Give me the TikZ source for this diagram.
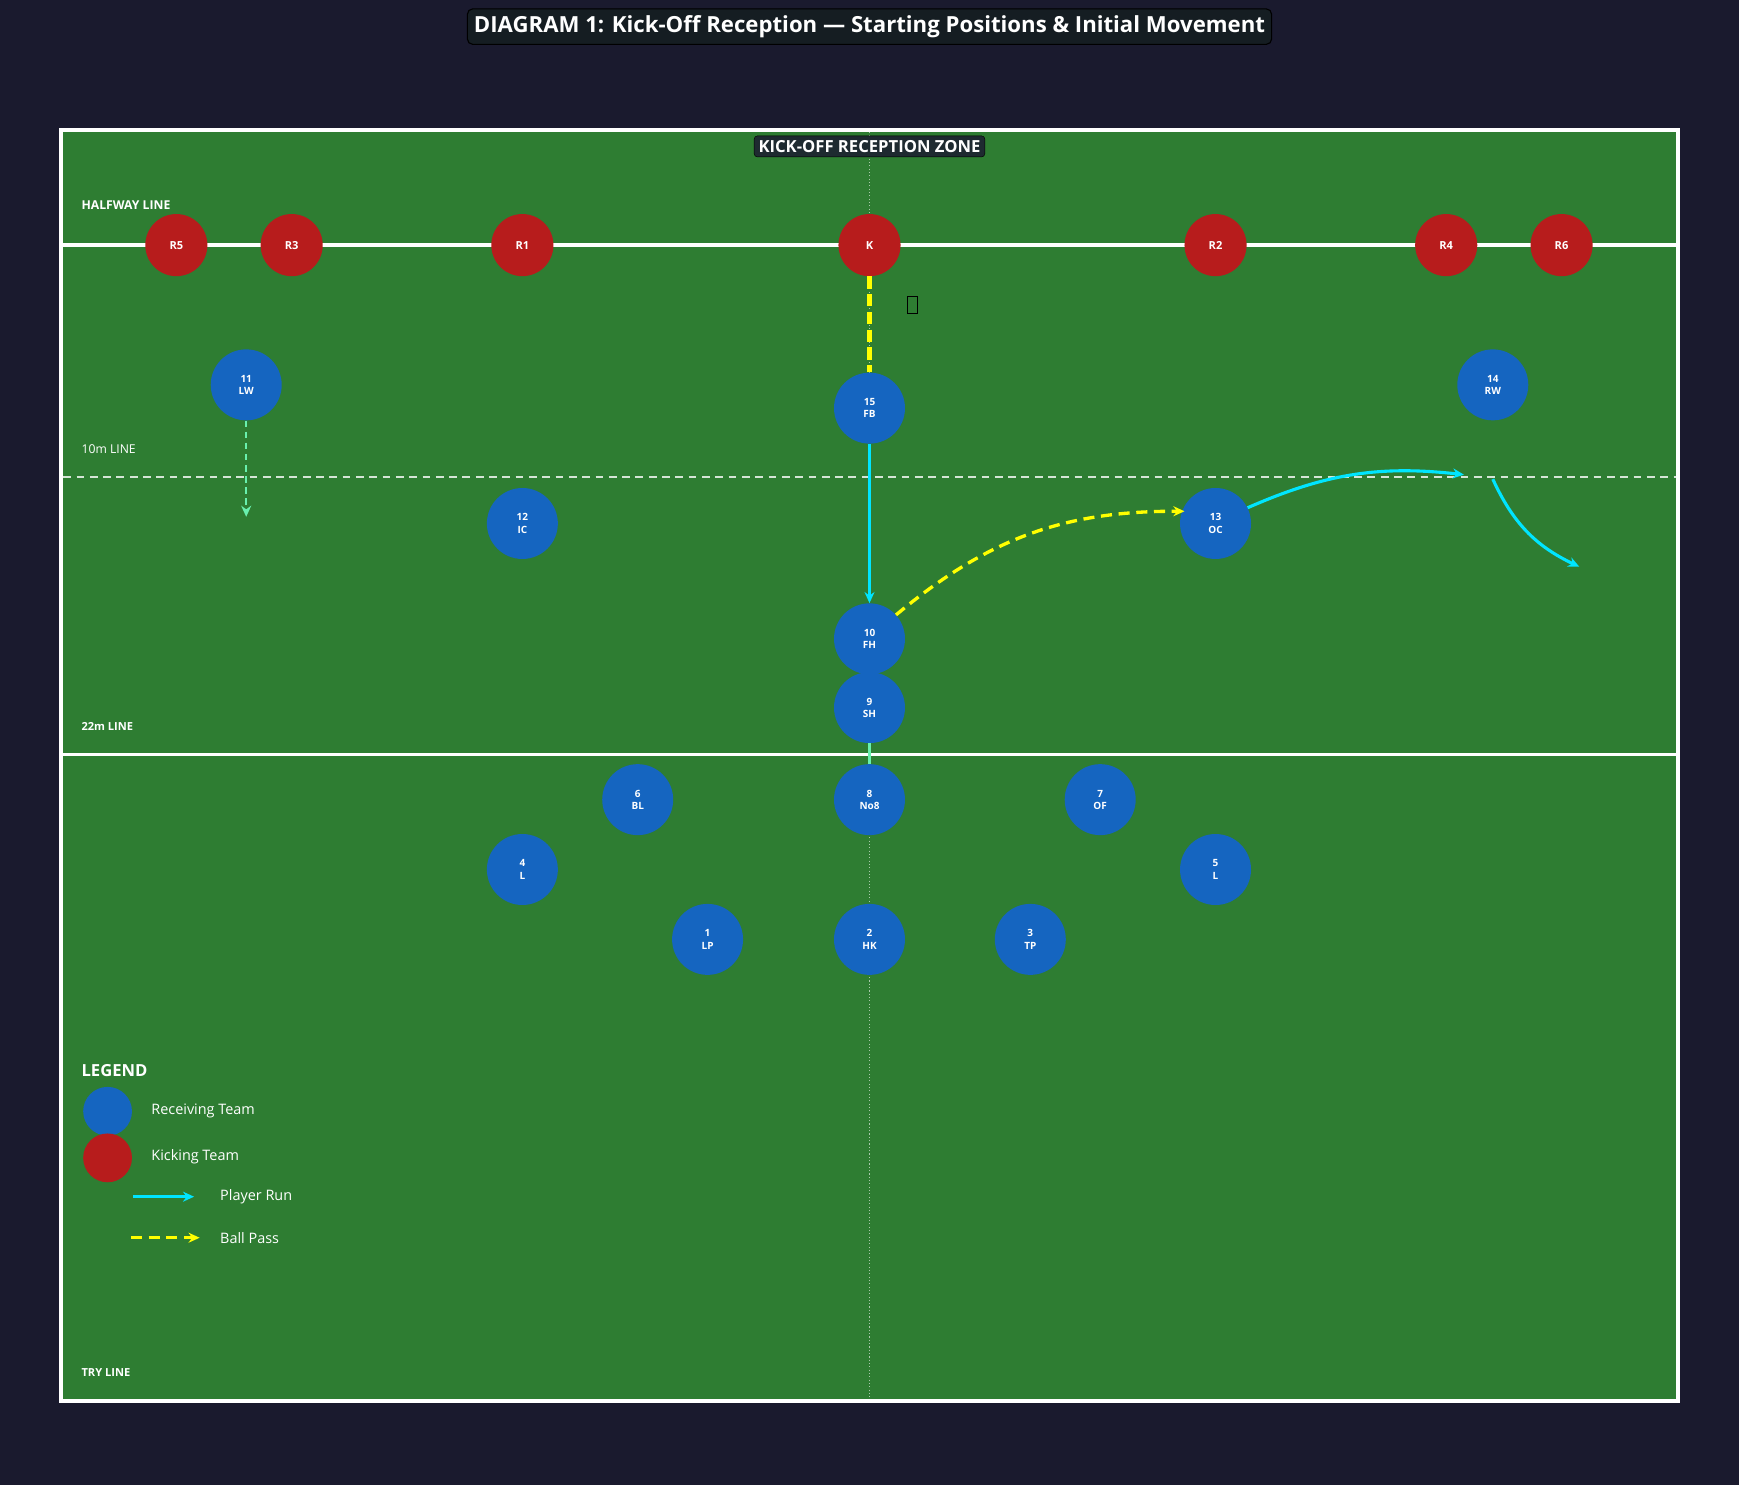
\documentclass[tikz,border=0pt]{standalone}
\usepackage{fontspec}
\setmainfont{Open Sans}
\usetikzlibrary{arrows.meta}
\definecolor{bgdark}{HTML}{1A1A2E}
\definecolor{pitch}{HTML}{2E7D32}
\definecolor{recv}{HTML}{1565C0}
\definecolor{kick}{HTML}{B71C1C}
\definecolor{runcol}{HTML}{00E5FF}
\definecolor{passcol}{HTML}{FFFF00}
\definecolor{support}{HTML}{69F0AE}
\definecolor{boxdark}{HTML}{1E2A30}
\tikzset{
    %Define standard arrow tip
    >={Stealth[length=10pt,width=9pt]},
    %Define style for players
    blue/.style={
           circle, fill=recv, minimum size=64pt, inner sep=0pt,
           text=white, align=center, font=\fontsize{9}{11}\selectfont\bfseries},
    red/.style={
           circle, fill=kick, minimum size=56pt, inner sep=0pt,
           text=white, font=\fontsize{10}{12}\selectfont\bfseries},
    linelabel/.style={
          anchor=west, text=white, font=\fontsize{11}{13}\selectfont\bfseries},
    % Define arrow styles
    run/.style={->, runcol, line width=2.8pt},
    pass/.style={->, passcol, line width=3pt, dash pattern=on 10pt off 6pt},
}
\begin{document}
\begin{tikzpicture}[x=1pt,y=-1pt]
\fill[bgdark] (0,0) rectangle (1568,1339);
\useasboundingbox (0,0) rectangle (1568,1339);
% pitch
\draw[white, line width=4pt, fill=pitch] (55,117) rectangle (1513,1263);
\draw[white, line width=3.5pt] (57,221) -- (1511,221);
\draw[white, line width=3pt] (57,680) -- (1511,680);
\draw[white!80!pitch, line width=2pt, dash pattern=on 7pt off 5pt] (57,430) -- (1511,430);
\draw[white!60!pitch, line width=1pt, dotted] (784,119) -- (784,1261);
\node[linelabel] (lhalf) at (70,185) {HALFWAY LINE};
\node[linelabel, font=\fontsize{11}{13}\selectfont] (lten) at (70,405) {10m LINE};
\node[linelabel, font=\fontsize{10}{12}\selectfont\bfseries] (ltwo) at (70,655) {22m LINE};
\node[linelabel, font=\fontsize{10}{12}\selectfont\bfseries] (ltry) at (70,1238) {TRY LINE};
\node[fill=boxdark, draw=black, rounded corners=3pt, text=white, font=\fontsize{15}{18}\selectfont\bfseries, inner sep=4pt] (zone) at (784,132) {KICK-OFF RECEPTION ZONE};
\node[fill=boxdark!70!black, draw=black, line width=1pt, rounded corners=5pt, text=white, font=\fontsize{20}{24}\selectfont\bfseries, inner sep=6pt] (title) at (784,24) {DIAGRAM 1: Kick-Off Reception — Starting Positions \& Initial Movement};
% kicking team
\node[red] (r5) at (159,221) {R5};
\node[red] (r3) at (263,221) {R3};
\node[red] (r1) at (471,221) {R1};
\node[red] (k) at (784,221) {K};
\node[red] (r2) at (1096,221) {R2};
\node[red] (r4) at (1304,221) {R4};
\node[red] (r6) at (1408,221) {R6};
\node[draw=black, line width=0.8pt, minimum width=9pt, minimum height=16pt, inner sep=0pt] (ball) at (823,275) {};
% receiving team
\node[blue] (lw) at (222,347) {11\\LW};
\node[blue] (fb) at (784,368) {15\\FB};
\node[blue] (rw) at (1346,347) {14\\RW};
\node[blue] (ic) at (471,472) {12\\IC};
\node[blue] (oc) at (1096,472) {13\\OC};
\node[blue] (fh) at (784,576) {10\\FH};
\node[blue] (sh) at (784,638) {9\\SH};
\node[blue] (bl) at (575,721) {6\\BL};
\node[blue] (no8) at (784,721) {8\\No8};
\node[blue] (of) at (992,721) {7\\OF};
\node[blue] (l4) at (471,784) {4\\L};
\node[blue] (l5) at (1096,784) {5\\L};
\node[blue] (lp) at (638,847) {1\\LP};
\node[blue] (hk) at (784,847) {2\\HK};
\node[blue] (tp) at (929,847) {3\\TP};
% movement
\coordinate (lwend) at (222,466);
\coordinate (rwmid) at (1320,428);
\coordinate (rwstart) at (1346,432);
\coordinate (rwend) at (1424,511);
\coordinate (ocin) at (1068,461);
\draw[passcol, line width=4.5pt, dash pattern=on 11pt off 5pt] (k) -- (fb);
\draw[run] (fb) -- (fh);
\draw[support, line width=2pt] (sh) -- (no8);
\draw[->, support, line width=2pt, dash pattern=on 6pt off 4pt] (lw) -- (lwend);
\draw[pass] (fh) to[bend left=20] (ocin);
\draw[run] (oc) to[bend left=15] (rwmid);
\draw[run] (rwstart) to[bend right=20] (rwend);
% legend
\node[anchor=west, text=white, font=\fontsize{15}{18}\selectfont\bfseries] (leg) at (70,965) {LEGEND};
\node[circle, fill=recv, minimum size=44pt] (legb) at (97,1002) {};
\node[anchor=west, text=white, font=\fontsize{13}{16}\selectfont] (legbt) at (133,1002) {Receiving Team};
\node[circle, fill=kick, minimum size=44pt] (legr) at (97,1044) {};
\node[anchor=west, text=white, font=\fontsize{13}{16}\selectfont] (legrt) at (133,1043) {Kicking Team};
\coordinate (runa) at (120,1079);
\coordinate (runb) at (175,1079);
\draw[run] (runa) -- (runb);
\node[anchor=west, text=white, font=\fontsize{13}{16}\selectfont] (legrun) at (195,1079) {Player Run};
\coordinate (passa) at (118,1116);
\coordinate (passb) at (180,1116);
\draw[pass] (passa) -- (passb);
\node[anchor=west, text=white, font=\fontsize{13}{16}\selectfont] (legpass) at (195,1116) {Ball Pass};
\end{tikzpicture}
\end{document}
